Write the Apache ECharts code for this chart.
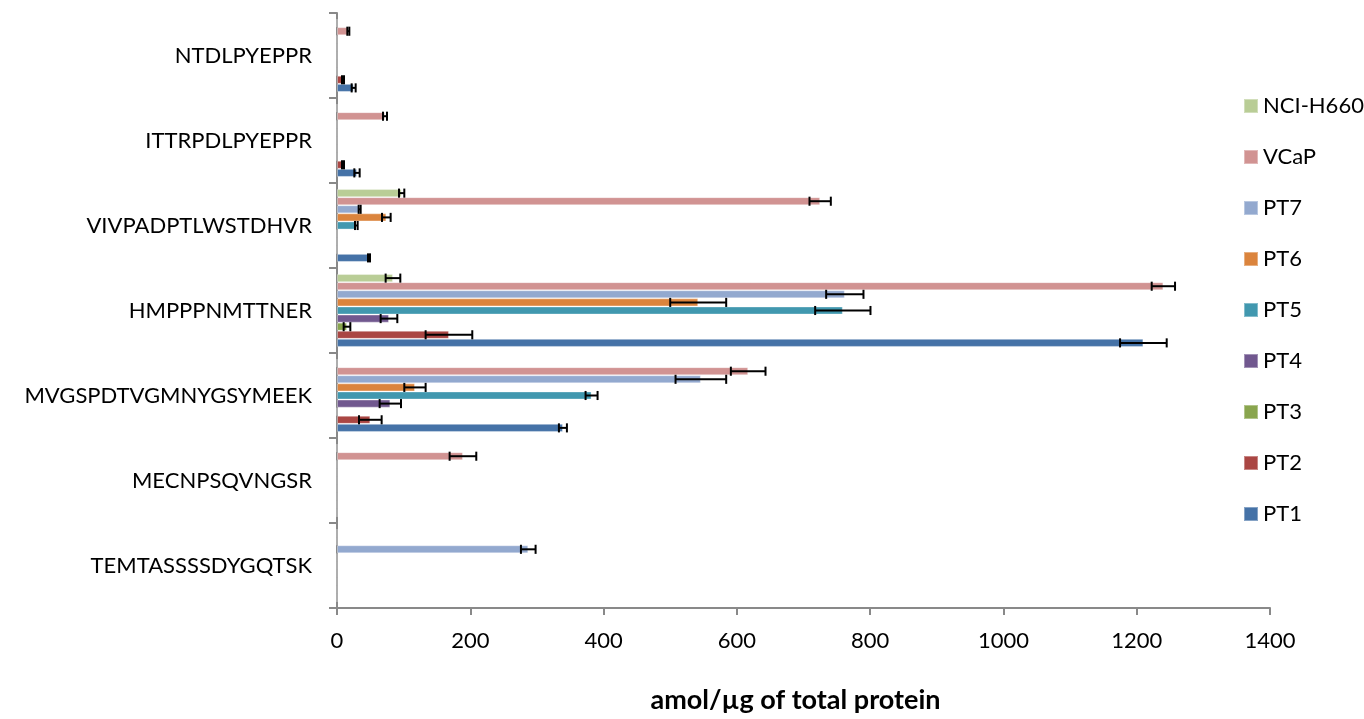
<!DOCTYPE html>
<html>
<head>
<meta charset="utf-8">
<title>Peptide abundance</title>
<script src="https://cdn.jsdelivr.net/npm/echarts@6/dist/echarts.min.js"></script>
<style>
  html, body { margin: 0; padding: 0; background: #fff; }
  #chart { width: 1364px; height: 719px; }
</style>
</head>
<body>
<div id="chart"></div>
<script>
// Peptides, listed from the bottom of the axis to the top
const categories = [
  'TEMTASSSSDYGQTSK',
  'MECNPSQVNGSR',
  'MVGSPDTVGMNYGSYMEEK',
  'HMPPPNMTTNER',
  'VIVPADPTLWSTDHVR',
  'ITTRPDLPYEPPR',
  'NTDLPYEPPR'
];

// Mean amounts (amol/µg of total protein) per sample, one entry per peptide
const pt1  = [0,   0,   339, 1210, 48,  30, 25];
const pt2  = [0,   0,   50,  168,  0,   9,  9];
const pt3  = [0,   0,   0,   15,   0,   0,  0];
const pt4  = [0,   0,   80,  78,   0,   0,  0];
const pt5  = [0,   0,   382, 759,  29,  0,  0];
const pt6  = [0,   0,   117, 542,  74,  0,  0];
const pt7  = [287, 0,   546, 762,  34,  0,  0];
const vcap = [0,   189, 617, 1240, 725, 72, 17];
const h660 = [0,   0,   0,   84,   97,  0,  0];

// Standard deviations for the same cells
const pt1Err  = [0,  0,  6,  35,   1.5, 4,   3];
const pt2Err  = [0,  0,  17, 35,   0,   1.5, 1.5];
const pt3Err  = [0,  0,  0,  5,    0,   0,   0];
const pt4Err  = [0,  0,  16, 12.5, 0,   0,   0];
const pt5Err  = [0,  0,  9,  41.5, 2,   0,   0];
const pt6Err  = [0,  0,  16, 42,   6.5, 0,   0];
const pt7Err  = [11, 0,  38, 28,   1.5, 0,   0];
const vcapErr = [0,  20, 26, 17.5, 16,  3,   1.5];
const h660Err = [0,  0,  0,  11,   4,   0,   0];

const xTicks = { min: 0, max: 1400, interval: 200 };
const axisTitle = 'amol/µg of total protein';

// Series in stacking order within each band (top slot first)
const samples = [
  { name: 'NCI-H660', values: h660, errors: h660Err, color: '#B9CD96' },
  { name: 'VCaP',     values: vcap, errors: vcapErr, color: '#D19392' },
  { name: 'PT7',      values: pt7,  errors: pt7Err,  color: '#93A9CF' },
  { name: 'PT6',      values: pt6,  errors: pt6Err,  color: '#DB843D' },
  { name: 'PT5',      values: pt5,  errors: pt5Err,  color: '#4198AF' },
  { name: 'PT4',      values: pt4,  errors: pt4Err,  color: '#71588F' },
  { name: 'PT3',      values: pt3,  errors: pt3Err,  color: '#89A54E' },
  { name: 'PT2',      values: pt2,  errors: pt2Err,  color: '#AA4643' },
  { name: 'PT1',      values: pt1,  errors: pt1Err,  color: '#4572A7' }
];

const GAP = 1.5 / 10.5;          // category gap as a share of the band
const FONT = 'Lato, "Open Sans", sans-serif';

const chart = echarts.init(document.getElementById('chart'), null, { renderer: 'canvas' });

// Whisker drawn at the end of each bar
function errorRenderer(slot) {
  return function (params, api) {
    const v = api.value(0);
    const c = api.value(1);
    const e = api.value(2);
    const band = api.size([0, 1])[1];
    const inner = band * (1 - GAP);
    const bw = inner / samples.length;
    const base = api.coord([v, c]);
    const y = base[1] - inner / 2 + (slot + 0.5) * bw;
    const lo = api.coord([v - e, c])[0];
    const hi = api.coord([v + e, c])[0];
    const half = bw / 2 + 0.5;
    const style = { stroke: '#000', lineWidth: 2 };
    return {
      type: 'group',
      children: [
        { type: 'line', shape: { x1: lo, y1: y, x2: hi, y2: y }, style },
        { type: 'line', shape: { x1: lo, y1: y - half, x2: lo, y2: y + half }, style },
        { type: 'line', shape: { x1: hi, y1: y - half, x2: hi, y2: y + half }, style }
      ]
    };
  };
}

const barSeries = samples.map(s => ({
  name: s.name,
  type: 'bar',
  data: s.values,
  barGap: '0%',
  barCategoryGap: (GAP * 100).toFixed(2) + '%',
  itemStyle: {
    color: s.color,
    borderColor: 'rgba(255,255,255,0.35)',
    borderWidth: 1
  },
  emphasis: { disabled: true },
  z: 2
}));

const errSeries = samples.map((s, slot) => ({
  name: s.name,
  type: 'custom',
  renderItem: errorRenderer(slot),
  data: s.values
    .map((v, i) => [v, i, s.errors[i]])
    .filter(d => d[2] > 0),
  encode: { x: 0, y: 1 },
  z: 5,
  silent: true,
  tooltip: { show: false }
}));

chart.setOption({
  animation: false,
  backgroundColor: '#fff',
  textStyle: { fontFamily: FONT },
  grid: { left: 337, right: 94, top: 13, bottom: 107, containLabel: false },
  legend: {
    orient: 'vertical',
    left: 1238,
    top: 90,
    itemWidth: 14,
    itemHeight: 14,
    itemGap: 29,
    icon: 'rect',
    data: samples.map(s => s.name),
    textStyle: { fontFamily: FONT, fontSize: 22, lineHeight: 22, color: '#000' }
  },
  xAxis: {
    type: 'value',
    min: xTicks.min,
    max: xTicks.max,
    interval: xTicks.interval,
    name: axisTitle,
    nameLocation: 'middle',
    nameGap: 79,
    nameTextStyle: {
      fontFamily: FONT, fontSize: 27, fontWeight: 'bold', color: '#000',
      padding: [0, 16, 0, 0]
    },
    axisLine: { show: true, lineStyle: { color: '#898989', width: 2 } },
    axisTick: { show: true, length: 7, lineStyle: { color: '#898989', width: 2 } },
    axisLabel: {
      fontFamily: FONT, fontSize: 22, color: '#000', margin: 22,
      formatter: v => String(v)
    },
    splitLine: { show: false }
  },
  yAxis: {
    type: 'category',
    data: categories,
    axisLine: { show: true, lineStyle: { color: '#898989', width: 2 } },
    axisTick: { show: true, length: 8, lineStyle: { color: '#898989', width: 2 } },
    axisLabel: { fontFamily: FONT, fontSize: 22, color: '#000', margin: 25 },
    splitLine: { show: false }
  },
  series: barSeries.concat(errSeries)
});
</script>
</body>
</html>
